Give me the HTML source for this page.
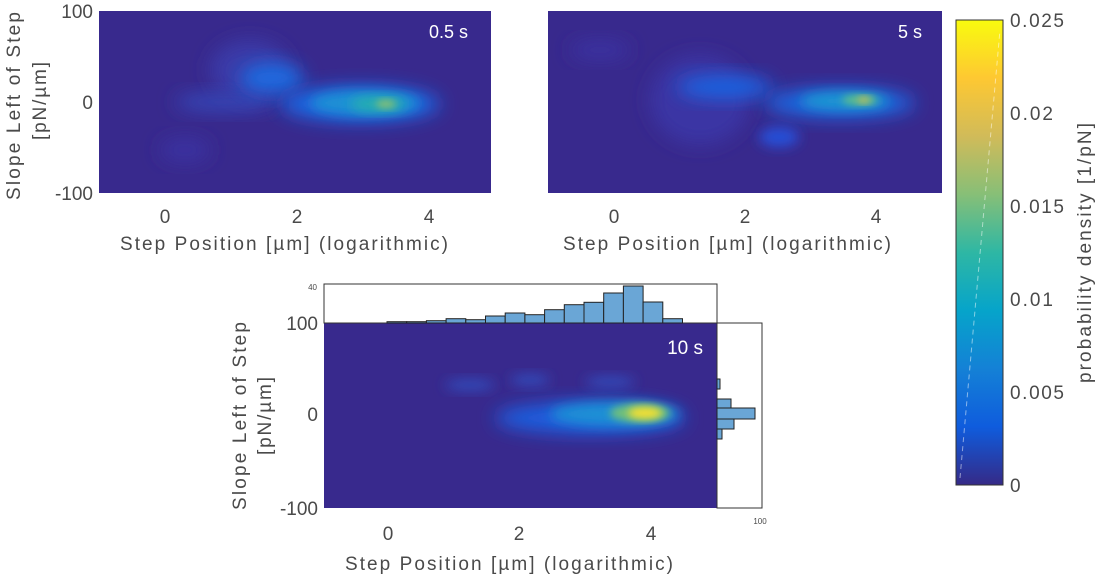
<!DOCTYPE html><html><head><style>body{margin:0;background:#fff}svg text{font-family:"Liberation Sans",sans-serif;fill:#4a4a4a}</style></head><body>
<svg width="1099" height="579" viewBox="0 0 1099 579" xmlns="http://www.w3.org/2000/svg">
<defs>
<filter id="b8" x="-50%" y="-50%" width="200%" height="200%"><feGaussianBlur stdDeviation="9"/></filter>
<filter id="b5" x="-50%" y="-50%" width="200%" height="200%"><feGaussianBlur stdDeviation="6"/></filter>
<filter id="b3" x="-50%" y="-50%" width="200%" height="200%"><feGaussianBlur stdDeviation="4"/></filter>
<linearGradient id="cb" x1="0" y1="1" x2="0" y2="0">
<stop offset="0" stop-color="#352a87"/><stop offset="0.125" stop-color="#0f5cdd"/><stop offset="0.25" stop-color="#1481d6"/><stop offset="0.375" stop-color="#06a4ca"/><stop offset="0.5" stop-color="#2eb7a4"/><stop offset="0.625" stop-color="#87bf77"/><stop offset="0.75" stop-color="#d1bb59"/><stop offset="0.875" stop-color="#fec832"/><stop offset="1" stop-color="#f9fb0e"/></linearGradient>
<clipPath id="c1"><rect x="99" y="11" width="392" height="182"/></clipPath>
<clipPath id="c2"><rect x="548" y="11" width="394" height="182"/></clipPath>
<clipPath id="c3"><rect x="324" y="323" width="393" height="185"/></clipPath>
</defs>
<!-- panel 1 -->
<rect x="99" y="11" width="392" height="182" fill="#38298d"/>
<g clip-path="url(#c1)">
<ellipse cx="250" cy="70" rx="40" ry="30" fill="#3a3aa8" filter="url(#b8)"/>
<ellipse cx="225" cy="102" rx="50" ry="10" fill="#3445b5" filter="url(#b8)"/>
<ellipse cx="185" cy="150" rx="25" ry="12" fill="#3a33a0" filter="url(#b8)"/>
<ellipse cx="272" cy="78" rx="32" ry="15" fill="#1d6ae0" filter="url(#b8)"/>
<ellipse cx="360" cy="104" rx="80" ry="18" fill="#1a66e2" filter="url(#b8)"/>
<ellipse cx="365" cy="103" rx="55" ry="12" fill="#1a92d4" filter="url(#b5)"/>
<ellipse cx="378" cy="104" rx="28" ry="7" fill="#25b2aa" filter="url(#b5)"/>
<ellipse cx="386" cy="104" rx="10" ry="4" fill="#90c070" filter="url(#b3)"/>
</g>
<text x="468" y="38" font-size="18" style="fill:#fff" text-anchor="end">0.5 s</text>
<!-- panel 2 -->
<rect x="548" y="11" width="394" height="182" fill="#38298d"/>
<g clip-path="url(#c2)">
<ellipse cx="700" cy="100" rx="50" ry="45" fill="#3a36a4" filter="url(#b8)"/>
<ellipse cx="600" cy="50" rx="30" ry="10" fill="#3a30a0" filter="url(#b8)"/>
<ellipse cx="725" cy="87" rx="48" ry="12" fill="#1f62e0" filter="url(#b8)"/>
<ellipse cx="840" cy="103" rx="75" ry="15" fill="#1a66e0" filter="url(#b8)"/>
<ellipse cx="779" cy="137" rx="20" ry="10" fill="#2550d8" filter="url(#b5)"/>
<ellipse cx="845" cy="101" rx="45" ry="9" fill="#1a98d2" filter="url(#b5)"/>
<ellipse cx="860" cy="100" rx="18" ry="5" fill="#60bf88" filter="url(#b3)"/>
<ellipse cx="864" cy="100" rx="6" ry="3" fill="#d8bb50" filter="url(#b3)"/>
</g>
<text x="922" y="38" font-size="18" style="fill:#fff" text-anchor="end">5 s</text>
<!-- panel 3 -->
<rect x="324" y="323" width="393" height="185" fill="#38298d"/>
<g clip-path="url(#c3)">
<ellipse cx="470" cy="385" rx="25" ry="6" fill="#3348b8" filter="url(#b5)"/>
<ellipse cx="530" cy="380" rx="20" ry="6" fill="#3348b8" filter="url(#b5)"/>
<ellipse cx="610" cy="382" rx="25" ry="6" fill="#3348b8" filter="url(#b5)"/>
<ellipse cx="590" cy="418" rx="95" ry="16" fill="#1f5ee0" filter="url(#b8)"/>
<ellipse cx="615" cy="414" rx="65" ry="12" fill="#1a90d5" filter="url(#b5)"/>
<ellipse cx="640" cy="413" rx="30" ry="9" fill="#70c07c" filter="url(#b3)"/>
<ellipse cx="645" cy="413" rx="17" ry="6" fill="#f5e030" filter="url(#b3)"/>
</g>
<text x="703" y="354" font-size="19" style="fill:#fff" text-anchor="end">10 s</text>
<!-- top histogram -->
<rect x="324" y="284" width="393" height="39" fill="none" stroke="#333" stroke-width="1"/>
<g fill="#6aa6d6" stroke="#222" stroke-width="1">
<rect x="387" y="321.7" width="19.7" height="1.3"/><rect x="406.7" y="321.7" width="19.7" height="1.3"/><rect x="426.4" y="320.7" width="19.7" height="2.3"/><rect x="446.1" y="318.7" width="19.7" height="4.3"/><rect x="465.8" y="319.7" width="19.7" height="3.3"/><rect x="485.5" y="316" width="19.7" height="7"/><rect x="505.2" y="313" width="19.7" height="10"/><rect x="524.9" y="314.7" width="19.7" height="8.3"/><rect x="544.6" y="309.7" width="19.7" height="13.3"/><rect x="564.3" y="304.7" width="19.7" height="18.3"/><rect x="584" y="302.3" width="19.7" height="20.7"/><rect x="603.7" y="293" width="19.7" height="30"/><rect x="623.4" y="286" width="19.7" height="37"/><rect x="643.1" y="302" width="19.7" height="21"/><rect x="662.8" y="318.7" width="19.7" height="4.3"/>
</g>
<text x="317" y="290" font-size="8" text-anchor="end">40</text>
<!-- right histogram -->
<rect x="717" y="323" width="45" height="185" fill="none" stroke="#333" stroke-width="1"/>
<g fill="#6aa6d6" stroke="#222" stroke-width="1">
<rect x="717" y="379" width="3" height="10"/><rect x="717" y="399" width="14" height="9"/><rect x="717" y="408" width="38" height="11"/><rect x="717" y="419" width="17" height="10"/><rect x="717" y="429" width="5" height="10"/>
</g>
<text x="760" y="524" font-size="8" text-anchor="middle">100</text>
<!-- colorbar -->
<rect x="956" y="20" width="47" height="465" fill="url(#cb)" stroke="#333" stroke-width="1"/>
<line x1="960" y1="478" x2="1000" y2="30" stroke="#fff" stroke-opacity="0.5" stroke-dasharray="5,4"/>
<g font-size="19">
<text x="1010" y="27" textLength="54">0.025</text><text x="1010" y="120" textLength="43">0.02</text><text x="1010" y="213" textLength="54">0.015</text><text x="1010" y="306" textLength="43">0.01</text><text x="1010" y="399" textLength="54">0.005</text><text x="1010" y="492">0</text>
</g>
<text transform="translate(1091,253) rotate(-90)" font-size="19" text-anchor="middle" textLength="260">probability density [1/pN]</text>
<g font-size="19">
<text x="93" y="18" text-anchor="end">100</text><text x="93" y="109" text-anchor="end">0</text><text x="93" y="200" text-anchor="end">-100</text>
<text x="165" y="223" text-anchor="middle">0</text><text x="297" y="223" text-anchor="middle">2</text><text x="429" y="223" text-anchor="middle">4</text>
<text x="120" y="250" textLength="328">Step Position [µm] (logarithmic)</text>
<text x="614" y="223" text-anchor="middle">0</text><text x="745" y="223" text-anchor="middle">2</text><text x="876" y="223" text-anchor="middle">4</text>
<text x="563" y="250" textLength="328">Step Position [µm] (logarithmic)</text>
<text transform="translate(20,200) rotate(-90)" textLength="188">Slope Left of Step</text>
<text transform="translate(46,140) rotate(-90)" textLength="78">[pN/µm]</text>
<text x="318" y="330" text-anchor="end">100</text><text x="318" y="421" text-anchor="end">0</text><text x="318" y="515" text-anchor="end">-100</text>
<text x="388" y="540" text-anchor="middle">0</text><text x="519" y="540" text-anchor="middle">2</text><text x="651" y="540" text-anchor="middle">4</text>
<text x="345" y="570" textLength="328">Step Position [µm] (logarithmic)</text>
<text transform="translate(246,510) rotate(-90)" textLength="188">Slope Left of Step</text>
<text transform="translate(271,455) rotate(-90)" textLength="78">[pN/µm]</text>
</g>
</svg>
</body></html>
